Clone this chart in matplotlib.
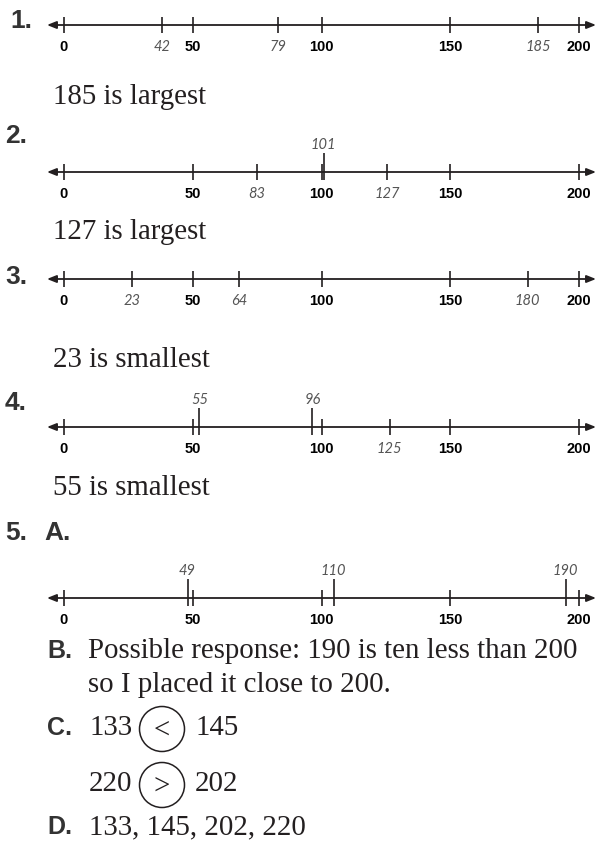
import matplotlib
matplotlib.use("Agg")
import matplotlib.pyplot as plt
from matplotlib.patches import Circle

# number line 0..200, bold labels
major = [0, 50, 100, 150, 200]

# student marks: label, where it was drawn on the line, label above the line?
marks_1 = [42, 79, 185]
drawn_1 = [38, 83, 184]
above_1 = [False, False, False]

marks_2 = [83, 101, 127]
drawn_2 = [75, 100.8, 125.5]
above_2 = [False, True, False]

marks_3 = [23, 64, 180]
drawn_3 = [26.5, 68, 180]
above_3 = [False, False, False]

marks_4 = [55, 96, 125]
drawn_4 = [52.6, 96.5, 126.5]
above_4 = [True, True, False]

marks_5 = [49, 110, 190]
drawn_5 = [48, 104.7, 194.8]
above_5 = [True, True, True]

answers = ["185 is largest", "127 is largest", "23 is smallest", "55 is smallest"]

cmp_left = [133, 220]
cmp_sign = ["<", ">"]
cmp_right = [145, 202]
order_d = [133, 145, 202, 220]

INK = "#231f20"
GREY = "#555555"
SERIF = "Liberation Serif"
SANS = "Liberation Sans"
HAND = ["Lato", "DejaVu Sans"]

W, H = 600, 843
fig = plt.figure(figsize=(W / 100, H / 100), dpi=100)
bg = fig.add_axes([0, 0, 1, 1])
bg.set_xlim(0, W)
bg.set_ylim(H, 0)
bg.axis("off")

# pixel -> value mapping of the lines: 0 at x=64, 200 at x=579
px_per = (579 - 64) / 200.0
lo = -64 / px_per
hi = (W - 64) / px_per
tip_l = (47 - 64) / px_per
tip_r = (596 - 64) / px_per


def number_line(ypix, marks, drawn, above):
    ax = fig.add_axes([0, 1 - (ypix + 30) / H, 1, 60 / H])
    ax.set_xlim(lo, hi)
    ax.set_ylim(-30, 30)
    ax.axis("off")
    ax.annotate("", xy=(tip_r, 0), xytext=(tip_l, 0),
                arrowprops=dict(arrowstyle="<|-|>,head_length=0.55,head_width=0.22",
                                lw=1.3, color=INK, shrinkA=0, shrinkB=0))
    ax.vlines(major, -8, 8, color=INK, lw=1.2)
    for v in major:
        ax.text(v, -22, str(v), ha="center", va="center", fontsize=10.5,
                fontweight="bold", family=SANS, color="black")
    for m, d, up in zip(marks, drawn, above):
        if up:
            ax.vlines(d, -8, 19, color=INK, lw=1.2)
            ty = 27
        else:
            ax.vlines(d, -8, 8, color=INK, lw=1.2)
            ty = -22
        ax.text(d, ty, str(m), ha="center", va="center", fontsize=10.5,
                family=HAND, style="italic", color=GREY)


number_line(25, marks_1, drawn_1, above_1)
number_line(172, marks_2, drawn_2, above_2)
number_line(279, marks_3, drawn_3, above_3)
number_line(427, marks_4, drawn_4, above_4)
number_line(598, marks_5, drawn_5, above_5)

head = dict(fontsize=19, fontweight="bold", family=SANS, color="#333333",
            va="center", ha="left")
bg.text(10, 21, "1.", **head)
bg.text(5, 136, "2.", **head)
bg.text(5, 277, "3.", **head)
bg.text(5, 403, "4.", **head)
bg.text(5, 533, "5.", **head)
bg.text(44, 533, "A.", **head)

body = dict(fontsize=20.8, family=SERIF, color=INK, va="center", ha="left")
for s, y in zip(answers, [97, 232, 360, 488]):
    bg.text(53, y, s, **body)

part = dict(fontsize=18, fontweight="bold", family=SANS, color="#333333",
            va="center", ha="left")
bg.text(47, 651, "B.", **part)
bg.text(88, 651, "Possible response: 190 is ten less than 200", **body)
bg.text(88, 685, "so I placed it close to 200.", **body)

bg.text(47, 728, "C.", **part)
for (a, s, b), y in zip(zip(cmp_left, cmp_sign, cmp_right), [728, 784]):
    bg.text(89, y, str(a), **body)
    bg.add_patch(Circle((162, y + 1), 22.5, fill=False, ec=INK, lw=1.1))
    bg.text(162, y + 3, s, fontsize=20.8, family=SERIF, color=INK,
            ha="center", va="center")
    bg.text(195, y, str(b), **body)

bg.text(47, 827, "D.", **part)
bg.text(89, 827, ", ".join(str(v) for v in order_d), **body)

fig.savefig("out.png", dpi=100)
